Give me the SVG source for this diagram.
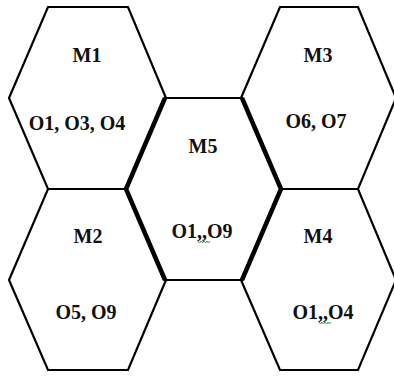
<svg xmlns="http://www.w3.org/2000/svg" width="394" height="377" viewBox="0 0 394 377">
<style>
  .hex { fill: #fff; stroke: #000; stroke-width: 2.2; stroke-linejoin: miter; }
  .thick { fill: none; stroke: #000; stroke-width: 4.5; stroke-linejoin: miter; }
  .t { font-family: "Liberation Serif", "Times New Roman", serif; font-weight: bold; font-size: 20px; fill: #111; text-anchor: middle; }
  .sq { fill: none; stroke: #3aa33a; stroke-width: 1; }
</style>
<rect width="394" height="377" fill="#fff"/>
<g id="M1">
  <polygon class="hex" points="48,7 128,7 166,98 128,189 48,189 9,98"/>
  <text class="t" x="87" y="62">M1</text>
  <text class="t" x="77" y="130">O1, O3, O4</text>
</g>
<g id="M2">
  <polygon class="hex" points="48,189 128,189 166,280 128,370 48,370 9,280"/>
  <text class="t" x="88" y="243">M2</text>
  <text class="t" x="86" y="319">O5, O9</text>
</g>
<g id="M3">
  <polygon class="hex" points="280,7 358,7 396,98 358,189 280,189 241,98"/>
  <text class="t" x="318" y="62">M3</text>
  <text class="t" x="316" y="128">O6, O7</text>
</g>
<g id="M4">
  <polygon class="hex" points="280,189 358,189 396,280 358,370 280,370 241,280"/>
  <text class="t" x="318" y="243">M4</text>
  <text class="t" x="323" y="319">O1,,O4</text>
  <path class="sq" d="M319,322 l1.5,2 l1.5,-2 l1.5,2 l1.5,-2 l1.5,2 l1.5,-2 l1.5,2 l1.5,-2"/>
</g>
<g id="M5">
  <polygon class="hex" points="165,98 242,98 281,189 242,280 165,280 126,189"/>
  <path class="thick" d="M165,98 L126,189 L165,280 M242,98 L281,189 L242,280"/>
  <text class="t" x="203" y="153">M5</text>
  <text class="t" x="202" y="238">O1,,O9</text>
  <path class="sq" d="M198,241 l1.5,2 l1.5,-2 l1.5,2 l1.5,-2 l1.5,2 l1.5,-2 l1.5,2 l1.5,-2"/>
</g>
<g id="connectors"></g>
</svg>
